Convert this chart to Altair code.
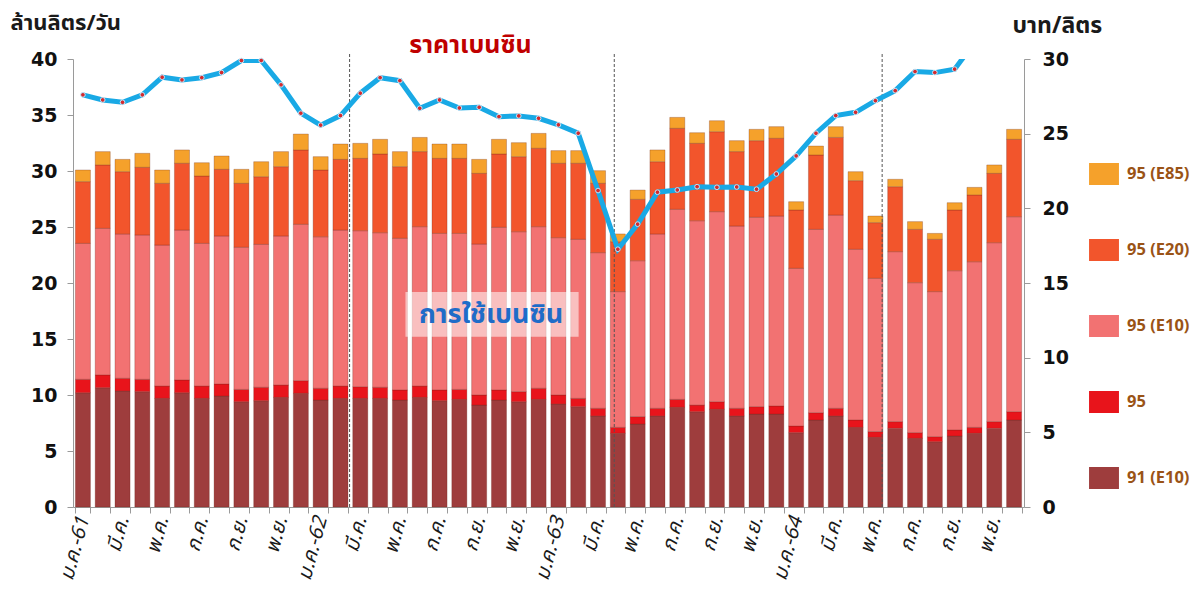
import json
import altair as alt
import pandas as pd

# ---------------- data ----------------
tick_labels = [
    "ม.ค.-61", "", "มี.ค.", "", "พ.ค.", "", "ก.ค.", "", "ก.ย.", "", "พ.ย.", "",
    "ม.ค.-62", "", "มี.ค.", "", "พ.ค.", "", "ก.ค.", "", "ก.ย.", "", "พ.ย.", "",
    "ม.ค.-63", "", "มี.ค.", "", "พ.ค.", "", "ก.ค.", "", "ก.ย.", "", "พ.ย.", "",
    "ม.ค.-64", "", "มี.ค.", "", "พ.ค.", "", "ก.ค.", "", "ก.ย.", "", "พ.ย.", "",
]

series_names = ["95 (E85)", "95 (E20)", "95 (E10)", "95", "91 (E10)"]
series_colors = ["#F5A12B", "#F2552C", "#F27272", "#E8141B", "#9E3D3D"]

g91_e10 = [10.2, 10.65, 10.36, 10.3, 9.7, 10.2, 9.7, 9.91, 9.4, 9.49, 9.79, 10.15,
           9.55, 9.7, 9.7, 9.7, 9.55, 9.79, 9.49, 9.61, 9.1, 9.55, 9.4, 9.61,
           9.2, 8.96, 8.13, 6.58, 7.41, 8.13, 8.9, 8.51, 8.72, 8.13, 8.3, 8.3,
           6.64, 7.77, 8.13, 7.11, 6.22, 7.02, 6.13, 5.83, 6.34, 6.58, 7.02, 7.77]
g95 = [1.2, 1.14, 1.13, 1.1, 1.1, 1.14, 1.1, 1.07, 1.1, 1.2, 1.1, 1.13,
       1.05, 1.1, 1.04, 0.99, 0.9, 1.01, 0.96, 0.89, 0.9, 0.9, 0.9, 0.99,
       0.8, 0.74, 0.68, 0.53, 0.66, 0.68, 0.71, 0.59, 0.68, 0.68, 0.66, 0.72,
       0.59, 0.65, 0.68, 0.66, 0.51, 0.6, 0.51, 0.45, 0.54, 0.53, 0.6, 0.74]
g95_e10 = [12.14, 13.09, 12.89, 12.89, 12.59, 13.39, 12.74, 13.22, 12.69, 12.76, 13.31, 13.96,
           13.53, 13.93, 13.93, 13.8, 13.54, 14.23, 13.98, 13.93, 13.48, 14.52, 14.28, 14.43,
           14.05, 14.2, 13.9, 12.12, 13.92, 15.57, 16.97, 16.46, 16.97, 16.28, 16.91, 16.96,
           14.08, 16.37, 17.26, 15.24, 13.69, 15.18, 13.39, 12.95, 14.22, 14.79, 15.98, 17.41]
g95_e20 = [5.51, 5.66, 5.56, 6.04, 5.51, 5.96, 6.01, 5.95, 5.71, 6.04, 6.19, 6.64,
           5.96, 6.31, 6.46, 7.03, 6.4, 6.7, 6.7, 6.7, 6.31, 6.55, 6.7, 7.0,
           6.64, 6.79, 6.19, 4.46, 5.48, 6.45, 7.23, 6.91, 7.14, 6.64, 6.84, 6.94,
           5.21, 6.64, 6.93, 6.13, 4.97, 5.8, 4.76, 4.67, 5.42, 5.96, 6.19, 6.91]
g95_e85 = [1.04, 1.19, 1.1, 1.25, 1.19, 1.19, 1.19, 1.19, 1.25, 1.34, 1.34, 1.42,
           1.19, 1.37, 1.34, 1.31, 1.34, 1.27, 1.28, 1.28, 1.25, 1.31, 1.25, 1.33,
           1.13, 1.13, 1.13, 0.69, 0.83, 1.05, 0.98, 0.95, 0.98, 0.98, 1.01, 1.04,
           0.74, 0.8, 0.96, 0.8, 0.59, 0.66, 0.69, 0.53, 0.65, 0.68, 0.75, 0.89]

price = [27.6, 27.26, 27.1, 27.6, 28.78, 28.6, 28.75, 29.09, 29.9, 29.9, 28.27, 26.37,
         25.57, 26.21, 27.71, 28.75, 28.55, 26.7, 27.26, 26.72, 26.77, 26.14, 26.19, 26.03,
         25.59, 25.03, 21.19, 17.26, 18.94, 21.08, 21.23, 21.45, 21.41, 21.43, 21.28, 22.3,
         23.51, 25.03, 26.21, 26.43, 27.21, 27.88, 29.16, 29.09, 29.32, 31.1, 31.6, 32.0]

# dashed dividers (in month units along the axis)
divider_positions = [13.96, 27.32, 40.84]

# ---------------- tables ----------------
stack_lists = {"91 (E10)": g91_e10, "95": g95, "95 (E10)": g95_e10,
               "95 (E20)": g95_e20, "95 (E85)": g95_e85}
stack_order = {"91 (E10)": 0, "95": 1, "95 (E10)": 2, "95 (E20)": 3, "95 (E85)": 4}
rows = []
for name, vals in stack_lists.items():
    for i, v in enumerate(vals):
        rows.append({"idx": i, "series": name, "value": v, "so": stack_order[name]})
bars_df = pd.DataFrame(rows)
price_df = pd.DataFrame({"idx": list(range(len(price))), "price": price})
div_df = pd.DataFrame({"pos": divider_positions})

THAI = "Tahoma, 'Noto Sans Thai', 'Noto Sans', 'DejaVu Sans', sans-serif"
NUM = "DejaVu Sans"
label_expr = json.dumps(tick_labels, ensure_ascii=False) + "[datum.value]"

W, H = 951, 448
band = alt.Scale(type="band", paddingInner=0.24, paddingOuter=0.12)
pointsc = alt.Scale(type="point", padding=0.5)
lin_x = alt.Scale(domain=[0, 48], nice=False, zero=False)
left_y = alt.Scale(domain=[0, 40], nice=False)
right_y = alt.Scale(domain=[0, 30], nice=False)

bars = alt.Chart(bars_df).mark_bar(
    stroke="#6b2418", strokeOpacity=0.35, strokeWidth=0.8
).encode(
    x=alt.X("idx:O", scale=band, axis=alt.Axis(
        title=None, labelExpr=label_expr, labelAngle=-75, labelAlign="right",
        labelBaseline="middle", labelFont=THAI, labelFontSize=20,
        labelFontStyle="italic", labelColor="#1a1a1a", labelPadding=4,
        labelOverlap=False, tickBand="extent", tickSize=6, tickColor="#9a9a9a",
        domainColor="#9a9a9a")),
    y=alt.Y("value:Q", stack="zero", scale=left_y, axis=alt.Axis(
        values=[0, 5, 10, 15, 20, 25, 30, 35, 40], grid=False,
        labelFont=NUM, labelFontSize=19, labelFontWeight="bold", labelColor="#111111",
        labelPadding=10, tickSize=6, tickColor="#9a9a9a", domainColor="#9a9a9a",
        title="ล้านลิตร/วัน", titleAngle=0, titleX=-63, titleY=-37,
        titleAlign="left", titleBaseline="middle", titleFont=THAI,
        titleFontSize=22, titleFontWeight="bold", titleColor="#1a1a1a")),
    color=alt.Color("series:N", scale=alt.Scale(domain=series_names, range=series_colors),
                    legend=alt.Legend(
                        orient="none", legendX=1020, legendY=104, title=None,
                        symbolType="M-1.36,-1L1.36,-1L1.36,1L-1.36,1Z",
                        symbolSize=484, rowPadding=54, labelOffset=12,
                        labelFont="'Open Sans', 'DejaVu Sans', sans-serif",
                        labelFontSize=16.5, labelFontWeight="bold",
                        labelColor="#9A5316", symbolStrokeWidth=0, symbolOpacity=1)),
    order=alt.Order("so:Q", sort="ascending"),
)

line = alt.Chart(price_df).mark_line(color="#19A9E5", strokeWidth=5, clip=True).encode(
    x=alt.X("idx:O", scale=pointsc, axis=None),
    y=alt.Y("price:Q", scale=right_y, axis=alt.Axis(
        orient="right", values=[0, 5, 10, 15, 20, 25, 30], grid=False,
        labelFont=NUM, labelFontSize=19, labelFontWeight="bold", labelColor="#111111",
        labelPadding=12, tickSize=6, tickColor="#9a9a9a", domainColor="#9a9a9a",
        title="บาท/ลิตร", titleAngle=0, titleX=-12, titleY=-34,
        titleAlign="left", titleBaseline="middle", titleFont=THAI,
        titleFontSize=23, titleFontWeight="bold", titleColor="#1a1a1a")),
)

points = alt.Chart(price_df).mark_circle(
    size=22, color="#D42A2E", stroke="#BFE7FA", strokeWidth=1
).encode(
    x=alt.X("idx:O", scale=pointsc, axis=None),
    y=alt.Y("price:Q", scale=right_y, axis=None),
    opacity=alt.condition("datum.price <= 30", alt.value(1), alt.value(0)),
)

dividers = alt.Chart(div_df).mark_rule(
    strokeDash=[3, 2], color="#555555", strokeWidth=1
).encode(
    x=alt.X("pos:Q", scale=lin_x, axis=None),
    y=alt.YDatum(0, scale=left_y, axis=None),
    y2=alt.Y2Datum(40.6),
)

box = alt.Chart(pd.DataFrame({"a": [0]})).mark_rect(color="white", opacity=0.55).encode(
    x=alt.XDatum(16.78, scale=lin_x, axis=None),
    x2=alt.X2Datum(25.52),
    y=alt.YDatum(15.2, scale=left_y, axis=None),
    y2=alt.Y2Datum(19.2),
)

usage_text = alt.Chart(pd.DataFrame({"a": [0]})).mark_text(
    text="การใช้เบนซิน", font=THAI, fontSize=27, fontWeight="bold", color="#1F6CC8",
    align="center", baseline="middle"
).encode(
    x=alt.XDatum(21.1, scale=lin_x, axis=None),
    y=alt.YDatum(17.1, scale=left_y, axis=None),
)

price_text = alt.Chart(pd.DataFrame({"a": [0]})).mark_text(
    text="ราคาเบนซิน", font=THAI, fontSize=25, fontWeight="bold", color="#C00000",
    align="center", baseline="middle"
).encode(
    x=alt.XDatum(20.06, scale=lin_x, axis=None),
    y=alt.YDatum(41.25, scale=left_y, axis=None),
)

chart = alt.layer(
    bars, dividers, box, usage_text, line, points, price_text
).resolve_scale(
    x="independent", y="independent", color="independent", opacity="independent"
).properties(
    width=W, height=H,
    autosize=alt.AutoSizeParams(type="none"),
    padding={"left": 65, "top": 51, "right": 170, "bottom": 78},
    background="white",
).configure_view(stroke=None)

chart.save("out.html", embed_options={"renderer": "svg", "actions": False})
